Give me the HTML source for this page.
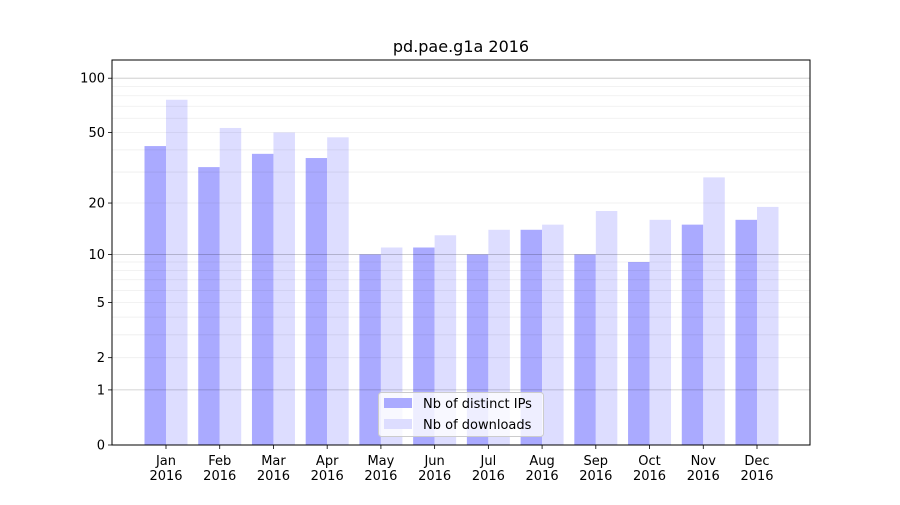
<!DOCTYPE html>
<html><head><meta charset="utf-8"><style>
body{margin:0;background:#fff;}
svg{font-family:"DejaVu Sans","Liberation Sans",sans-serif;}
</style></head><body>
<svg id="chart" width="900" height="500"></svg>
<script>
const months = ["Jan","Feb","Mar","Apr","May","Jun","Jul","Aug","Sep","Oct","Nov","Dec"];
const ips = [42,32,38,36,10,11,10,14,10,9,15,16];
const downloads = [76,53,50,47,11,13,14,15,18,16,28,19];
const yTicks = [0,1,2,5,10,20,50,100];
const minorTicks = [3,4,6,7,8,9,30,40,60,70,80,90,2,5,20,50];
const majorGrid = [1,10,100];

const NS="http://www.w3.org/2000/svg";
const svg=document.getElementById('chart');
const L=112,R=810,T=60,B=445;
function y(v){return B-183*Math.log10(1+v);}
const step=(757-166)/11;
function xc(i){return 166+i*step;}
function el(tag,attrs,parent){const e=document.createElementNS(NS,tag);for(const k in attrs)e.setAttribute(k,attrs[k]);(parent||svg).appendChild(e);return e;}

const bw=21.5;
months.forEach((m,i)=>{
  const b1=el('rect',{x:xc(i)-bw,y:y(ips[i]),width:bw,height:B-y(ips[i]),fill:'#aaaaff'});
  
  
  const b2=el('rect',{x:xc(i),y:y(downloads[i]),width:bw,height:B-y(downloads[i]),fill:'#ddddff'});
  
  
  el('line',{x1:xc(i),x2:xc(i),y1:B,y2:B+4,stroke:'#000','stroke-width':0.8});
  const t=el('text',{x:xc(i),y:B+20,'text-anchor':'middle','font-size':13});
  
  
  t.innerHTML='<tspan x="'+xc(i)+'">'+m+'</tspan><tspan x="'+xc(i)+'" dy="15">2016</tspan>';
});

minorTicks.forEach(v=>{const g=el('line',{x1:L,x2:R,y1:y(v),y2:y(v),stroke:'#000','stroke-opacity':0.07,'stroke-width':0.8});

});
majorGrid.forEach(v=>{const g=el('line',{x1:L,x2:R,y1:y(v),y2:y(v),stroke:'#000','stroke-opacity':0.22,'stroke-width':0.8});

});

yTicks.forEach(v=>{
  el('line',{x1:L-4,x2:L,y1:y(v),y2:y(v),stroke:'#000','stroke-width':0.8});
  const t=el('text',{x:L-7,y:y(v)+4.5,'text-anchor':'end','font-size':13});
  
  
  t.textContent=v;
});

const ax=el('rect',{x:L,y:T,width:R-L,height:B-T,fill:'none',stroke:'#000','stroke-width':1});



const title=el('text',{x:461,y:52,'text-anchor':'middle','font-size':16});


title.textContent='pd.pae.g1a 2016';

const lg=el('g',{});


el('rect',{x:378.5,y:392.5,width:165,height:44,rx:3,fill:'#fff','fill-opacity':0.8,stroke:'#ccc'},lg);
el('rect',{x:384,y:398,width:28,height:10,fill:'#aaaaff'},lg);
el('rect',{x:384,y:419,width:28,height:10,fill:'#ddddff'},lg);
const l1=el('text',{x:423,y:408,'font-size':13},lg);l1.textContent='Nb of distinct IPs';


const l2=el('text',{x:423,y:429,'font-size':13},lg);l2.textContent='Nb of downloads';


</script>
</body></html>
